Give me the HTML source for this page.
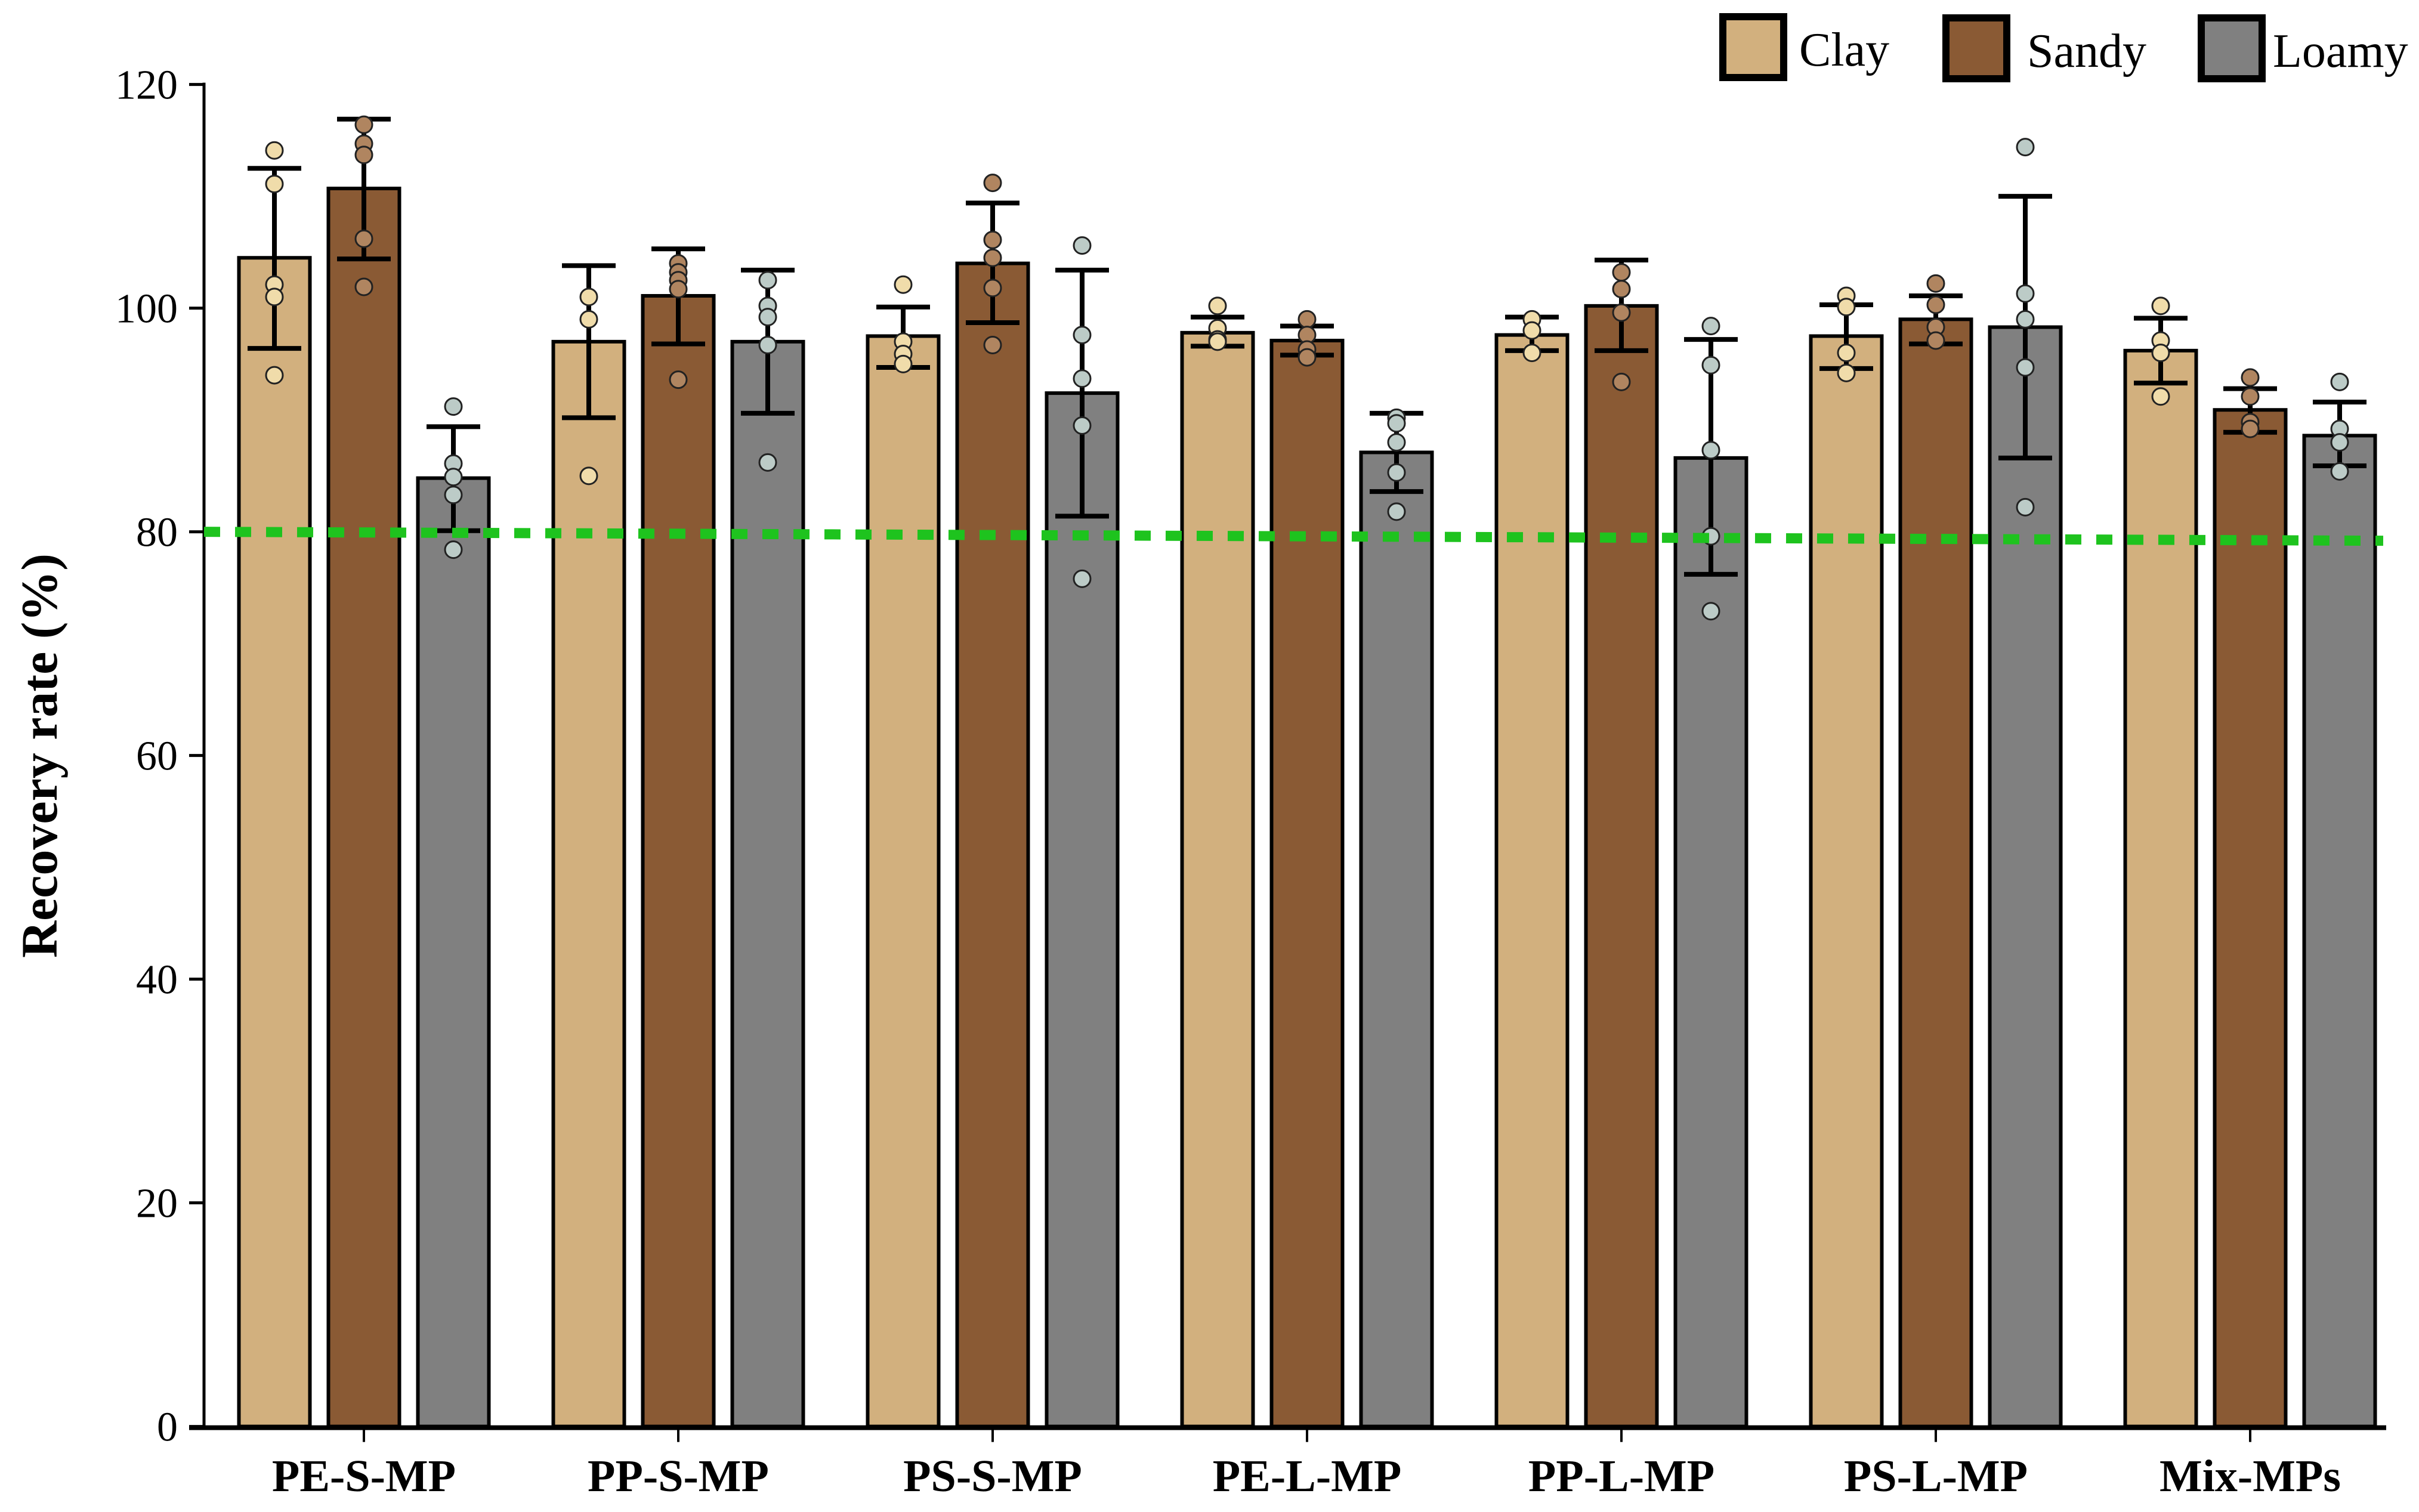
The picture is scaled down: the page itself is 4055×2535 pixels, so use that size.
<!DOCTYPE html>
<html><head><meta charset="utf-8"><style>
html,body{margin:0;padding:0;background:#fff;}
svg{display:block;font-family:"Liberation Serif",serif;}
</style></head><body>
<svg id="chart" width="4055" height="2535" viewBox="0 0 4055 2535" xmlns="http://www.w3.org/2000/svg">
<g id="legend">
  <g><rect x="2888" y="28" width="102" height="102" fill="#D2B07E" stroke="#000" stroke-width="12"/><text x="3016" y="110" font-size="80">Clay</text></g>
  <g><rect x="3262" y="30" width="102" height="102" fill="#8A5A34" stroke="#000" stroke-width="12"/><text x="3398" y="112" font-size="80">Sandy</text></g>
  <g><rect x="3690" y="30" width="102" height="102" fill="#808080" stroke="#000" stroke-width="12"/><text x="3810" y="112" font-size="80">Loamy</text></g>
</g>
<g id="plot"></g>
<text transform="translate(95,1267) rotate(-90)" text-anchor="middle" font-size="86" font-weight="bold">Recovery rate (%)</text>
</svg>
<script>
const categories = ["PE-S-MP","PP-S-MP","PS-S-MP","PE-L-MP","PP-L-MP","PS-L-MP","Mix-MPs"];
const seriesNames = ["Clay","Sandy","Loamy"];
const clayMean = [104.5,97.0,97.5,97.8,97.6,97.5,96.2];
const clayErrHi = [112.5,103.8,100.1,99.2,99.2,100.3,99.1];
const clayErrLo = [96.4,90.2,94.7,96.6,96.2,94.6,93.3];
const sandyMean = [110.7,101.1,104.0,97.1,100.2,99.0,90.9];
const sandyErrHi = [116.9,105.3,109.4,98.4,104.3,101.1,92.8];
const sandyErrLo = [104.4,96.8,98.7,95.8,96.2,96.8,88.9];
const loamyMean = [84.8,97.0,92.4,87.1,86.6,98.3,88.6];
const loamyErrHi = [89.4,103.4,103.4,90.6,97.2,110.0,91.6];
const loamyErrLo = [80.1,90.6,81.4,83.6,76.2,86.6,85.9];
const clayPoints = [[114.1,111.1,102.1,101.0,94.0],[101.0,99.0,85.0],[102.1,97.0,95.9,95.0],[100.2,98.2,97.2,97.0],[99.0,98.0,96.0],[101.1,100.1,96.0,94.2],[100.2,97.1,96.0,92.1]];
const sandyPoints = [[116.4,114.7,113.7,106.2,101.9],[104.0,103.2,102.5,101.7,93.6],[111.2,106.1,104.5,101.8,96.7],[99.0,97.6,96.3,95.6],[103.2,101.7,99.6,93.4],[102.2,100.3,98.3,97.1],[93.8,92.1,89.8,89.2]];
const loamyPoints = [[91.2,86.1,84.9,83.3,78.4],[102.5,100.2,99.2,96.7,86.2],[105.6,97.6,93.7,89.5,75.8],[90.2,89.7,88.0,85.3,81.8],[98.4,94.9,87.3,79.6,72.9],[114.4,101.3,99.0,94.7,82.2],[93.4,89.2,88.0,85.4]];
const yTicks = [0,20,40,60,80,100,120];
const thresholdStart = 80.0;
const thresholdEnd = 79.2;

const NS = "http://www.w3.org/2000/svg";
const plot = document.getElementById("plot");
const y0px = 2391.6, pxPerUnit = 18.75;
function yScale(v){ return y0px - v*pxPerUnit; }
function groupCenter(i){ return 610 + 527*i; }
function mk(tag, attrs){ const e=document.createElementNS(NS,tag); for(const k in attrs) e.setAttribute(k, attrs[k]); plot.appendChild(e); return e; }

const fills = ["#D2B07E","#8A5A34","#808080"];
const ptFills = ["#F0DCAA","#B08560","#BCCBC7"];
const means = [clayMean,sandyMean,loamyMean];
const his = [clayErrHi,sandyErrHi,loamyErrHi];
const los = [clayErrLo,sandyErrLo,loamyErrLo];
const pts = [clayPoints,sandyPoints,loamyPoints];
const bw = 119;

// y axis
for (const t of yTicks){
  const tk = mk("line",{x1:317,x2:342,y1:yScale(t),y2:yScale(t),stroke:"#000","stroke-width":5});
  
  
  const lb = mk("text",{x:298,y:yScale(t)+24,"text-anchor":"end","font-size":70});
  lb.textContent = t;
  
  
}
const ya = mk("line",{x1:342,x2:342,y1:yScale(120)-3,y2:yScale(0),stroke:"#000","stroke-width":5});



categories.forEach((c,i)=>{
  const gc = groupCenter(i);
  for (let s=0;s<3;s++){
    const cx = gc + (s-1)*150;
    const m = means[s][i];
    const r = mk("rect",{x:cx-bw/2,y:yScale(m),width:bw,height:yScale(0)-yScale(m),fill:fills[s],stroke:"#000","stroke-width":6});
    
    
  }
  for (let s=0;s<3;s++){
    const cx = gc + (s-1)*150;
    const hi = yScale(his[s][i]), lo = yScale(los[s][i]);
    const e = mk("path",{d:`M${cx},${hi}V${lo}M${cx-45},${hi}H${cx+45}M${cx-45},${lo}H${cx+45}`,stroke:"#000","stroke-width":8,fill:"none"});
    
    
    for (const p of pts[s][i]){
      const d = mk("circle",{cx:cx,cy:yScale(p),r:14,fill:ptFills[s],stroke:"#222","stroke-width":3});
      
      
    }
  }
  const xt = mk("line",{x1:gc,x2:gc,y1:yScale(0),y2:yScale(0)+26,stroke:"#000","stroke-width":4});
  
  
  const xl = mk("text",{x:gc,y:2500,"text-anchor":"middle","font-size":76,"font-weight":"bold"});
  xl.textContent = c;
  
  
});
const xa = mk("line",{x1:317,x2:4000,y1:yScale(0)+2,y2:yScale(0)+2,stroke:"#000","stroke-width":8});


const th = mk("line",{x1:342,x2:3995,y1:yScale(thresholdStart),y2:yScale(thresholdEnd),stroke:"#1EC31E","stroke-width":17,"stroke-dasharray":"27 25"});


</script>
</body></html>
